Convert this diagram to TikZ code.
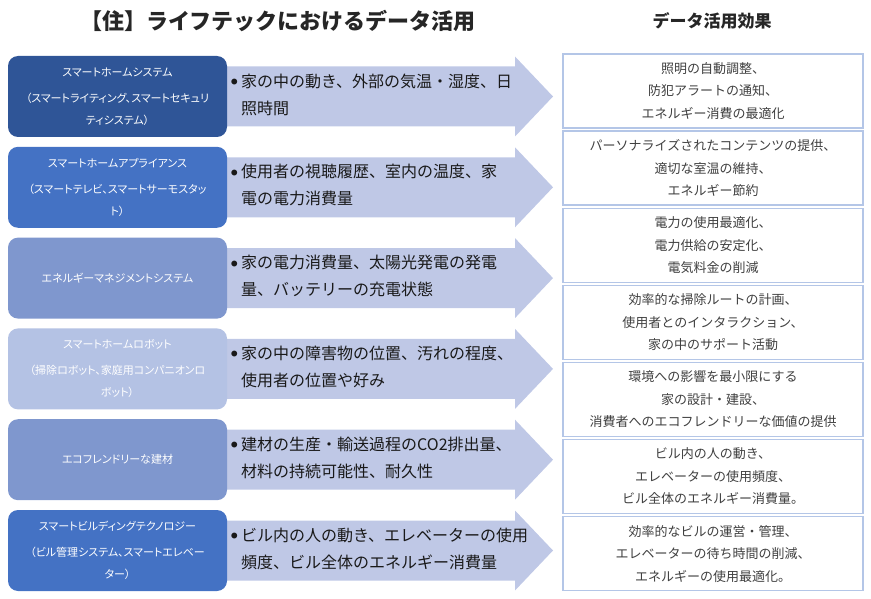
\documentclass[tikz,border=0pt]{standalone}
\usepackage{fontspec}
\setmainfont{Noto Sans CJK JP}
\newfontfamily\uifont[RawFeature=+palt]{Noto Sans CJK JP}
\usetikzlibrary{positioning}

\definecolor{srcnavy}{HTML}{2F5597}
\definecolor{srcblue}{HTML}{4472C4}
\definecolor{srcmid}{HTML}{7F97CE}
\definecolor{srclight}{HTML}{B4C2E4}
\definecolor{arrowfill}{HTML}{BFC8E6}
\definecolor{effline}{HTML}{B4C6E7}
\definecolor{efftext}{HTML}{404040}
\definecolor{headtext}{HTML}{262626}

\newcommand{\databullet}{\makebox[10pt][l]{\raisebox{2.5pt}{\fontsize{6.5}{7}\selectfont ●}}}

\tikzset{
	srcbox/.style={rounded corners=10pt, minimum width=219pt, minimum height=81pt, inner sep=1pt, text=white, align=center, font=\uifont\fontsize{11}{22}\selectfont},
	flowarrow/.style={fill=arrowfill},
	datatext/.style={anchor=west, align=left, inner sep=0pt, text=black!90, font=\fontsize{16}{27}\selectfont},
	effbox/.style={draw=effline, line width=1.2pt, fill=white, minimum width=300pt, minimum height=74pt, align=center, text=efftext, font=\fontsize{13}{22.5}\selectfont},
	headline/.style={text=headtext, font=\bfseries}
}

\begin{document}
\begin{tikzpicture}[x=1pt, y=-1pt]
	\useasboundingbox (0,0) rectangle (871,599);

	% headers
	\node[headline, font=\bfseries\fontsize{22}{24}\selectfont] (title) at (278,21) {【住】ライフテックにおけるデータ活用};
	\node[headline, font=\bfseries\fontsize{17}{20}\selectfont] (effhead) at (712,21) {データ活用効果};

	% rows: arrow, source box, data text
	\foreach \i/\col/\src/\dat in {
		1/srcnavy/{スマートホームシステム\\[4pt]（スマートライティング、スマートセキュリ\\ティシステム）}/{家の中の動き、外部の気温・湿度、日\\\hspace*{10pt}照時間},
		2/srcblue/{スマートホームアプライアンス\\[4pt]（スマートテレビ、スマートサーモスタッ\\ト）}/{使用者の視聴履歴、室内の温度、家\\\hspace*{10pt}電の電力消費量},
		3/srcmid/{エネルギーマネジメントシステム}/{家の電力消費量、太陽光発電の発電\\\hspace*{10pt}量、バッテリーの充電状態},
		4/srclight/{スマートホームロボット\\[4pt]（掃除ロボット、家庭用コンパニオンロ\\ボット）}/{家の中の障害物の位置、汚れの程度、\\\hspace*{10pt}使用者の位置や好み},
		5/srcmid/{エコフレンドリーな建材}/{建材の生産・輸送過程のCO2排出量、\\\hspace*{10pt}材料の持続可能性、耐久性},
		6/srcblue/{スマートビルディングテクノロジー\\[4pt]（ビル管理システム、スマートエレベー\\ター）}/{ビル内の人の動き、エレベーターの使用\\\hspace*{10pt}頻度、ビル全体のエネルギー消費量}}
	{
		\pgfmathsetmacro\cy{96.5+90.8*(\i-1)}
		\fill[flowarrow] (220,\cy-30) -- (515,\cy-30) -- (515,\cy-40) -- (553,\cy) -- (515,\cy+40) -- (515,\cy+30) -- (220,\cy+30) -- cycle;
		\node[srcbox, fill=\col] (src\i) at (117.5,\cy) {\src};
		\node[datatext] (data\i) at (231,\cy-2) {\databullet\dat};
	}

	% effect boxes
	\foreach \j/\eff in {
		1/{照明の自動調整、\\防犯アラートの通知、\\エネルギー消費の最適化},
		2/{パーソナライズされたコンテンツの提供、\\適切な室温の維持、\\エネルギー節約},
		3/{電力の使用最適化、\\電力供給の安定化、\\電気料金の削減},
		4/{効率的な掃除ルートの計画、\\使用者とのインタラクション、\\家の中のサポート活動},
		5/{環境への影響を最小限にする\\家の設計・建設、\\消費者へのエコフレンドリーな価値の提供},
		6/{ビル内の人の動き、\\エレベーターの使用頻度、\\ビル全体のエネルギー消費量。},
		7/{効率的なビルの運営・管理、\\エレベーターの待ち時間の削減、\\エネルギーの使用最適化。}}
	{
		\node[effbox] (eff\j) at (713,{91+77.1*(\j-1)}) {\eff};
	}

\end{tikzpicture}
\end{document}
